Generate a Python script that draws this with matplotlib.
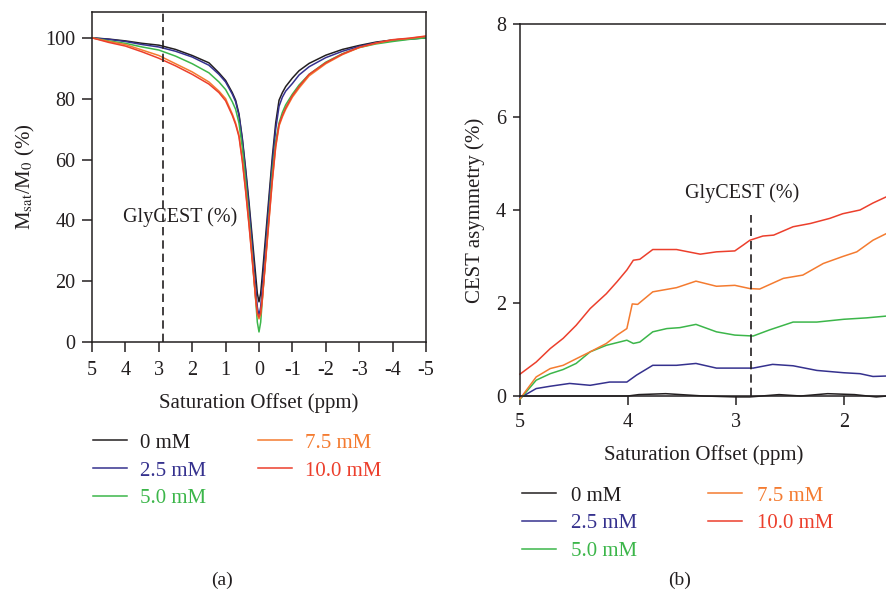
import numpy as np
import matplotlib
matplotlib.use("Agg")
import matplotlib.pyplot as plt

plt.rcParams["font.family"] = ["Liberation Serif", "DejaVu Serif"]
plt.rcParams["mathtext.fontset"] = "stix"

labels = ["0 mM", "2.5 mM", "5.0 mM", "7.5 mM", "10.0 mM"]
colors = ["#231f20", "#35318e", "#3cb64a", "#f47b30", "#ec3f2c"]

# ---- (a) Z-spectra ----
z_ppm = [5, 4.5, 4, 3.5, 3, 2.5, 2, 1.5, 1.2, 1, 0.8, 0.7, 0.6, 0.5, 0.4, 0.3, 0.2, 0.1, 0.05, 0,
         -0.05, -0.1, -0.2, -0.3, -0.4, -0.5, -0.6, -0.7, -0.8, -1, -1.2, -1.5, -2, -2.5, -3, -3.5, -4, -4.5, -5]
z_0mM = [100, 99.6, 99.0, 98.2, 97.6, 96.2, 94.2, 91.8, 88.5, 86.0, 82.0, 79.5, 75.0, 67.0, 57.0, 46.0, 34.0, 22.0, 16.0, 13.2,
         16.0, 22.0, 35.0, 48.0, 61.0, 72.0, 79.5, 82.0, 84.0, 86.8, 89.2, 91.6, 94.3, 96.2, 97.5, 98.6, 99.3, 99.7, 100]
z_25mM = [100, 99.5, 98.8, 97.8, 97.0, 95.6, 93.7, 91.0, 88.0, 85.5, 81.5, 79.0, 74.5, 66.5, 56.0, 44.5, 31.5, 18.0, 11.5, 8.6,
          11.5, 18.0, 32.0, 46.0, 59.0, 70.0, 77.5, 80.5, 82.5, 85.0, 87.8, 90.5, 93.5, 95.6, 97.2, 98.4, 99.2, 99.6, 100]
z_50mM = [100, 99.0, 98.2, 97.0, 96.0, 94.0, 91.5, 88.5, 85.5, 83.0, 79.0, 76.5, 72.0, 64.0, 53.0, 41.0, 28.0, 14.0, 6.5, 3.3,
          6.5, 14.0, 28.0, 42.0, 56.0, 66.0, 72.0, 75.5, 78.0, 81.5, 84.5, 88.0, 92.0, 94.8, 96.8, 98.0, 98.8, 99.5, 100]
z_75mM = [100, 98.8, 97.8, 96.0, 94.2, 91.5, 88.8, 85.5, 82.5, 80.0, 75.0, 72.0, 68.0, 60.0, 50.0, 39.0, 27.0, 14.0, 9.0, 7.6,
          9.0, 14.0, 27.0, 40.0, 53.0, 64.0, 71.0, 74.0, 76.5, 80.5, 83.5, 87.5, 91.5, 94.5, 96.8, 98.2, 99.3, 99.8, 100.5]
z_10mM = [100, 98.5, 97.3, 95.4, 93.3, 90.8, 88.0, 84.8, 82.0, 79.3, 74.5, 71.5, 67.5, 59.5, 49.5, 38.5, 26.5, 14.5, 9.6, 8.2,
          9.6, 14.5, 27.5, 40.5, 53.5, 64.5, 71.5, 74.5, 77.0, 81.0, 84.0, 88.0, 91.8, 94.7, 96.9, 98.3, 99.4, 99.9, 100.6]
z_series = [z_0mM, z_25mM, z_50mM, z_75mM, z_10mM]

# ---- (b) CEST asymmetry ----
a_ppm_0 = [5, 4.5, 4.0, 3.9, 3.65, 3.3, 3.0, 2.87, 2.6, 2.4, 2.15, 1.9, 1.7, 1.6]
a_0mM = [0.0, 0.0, 0.0, 0.03, 0.05, 0.0, -0.02, -0.02, 0.03, 0.0, 0.05, 0.03, -0.02, 0.0]
a_ppm_25 = [5, 4.85, 4.72, 4.54, 4.35, 4.17, 4.01, 3.92, 3.77, 3.55, 3.37, 3.18, 2.96, 2.84, 2.66, 2.47,
            2.25, 2.0, 1.85, 1.73, 1.6]
a_25mM = [-0.04, 0.16, 0.21, 0.27, 0.23, 0.3, 0.3, 0.45, 0.66, 0.66, 0.7, 0.6, 0.6, 0.6, 0.68, 0.65,
          0.55, 0.5, 0.48, 0.42, 0.43]
a_ppm_50 = [5, 4.85, 4.72, 4.6, 4.48, 4.35, 4.2, 4.01, 3.95, 3.89, 3.77, 3.64, 3.52, 3.37, 3.18, 3.01,
            2.84, 2.69, 2.47, 2.25, 2.0, 1.79, 1.6]
a_50mM = [-0.07, 0.34, 0.48, 0.57, 0.7, 0.95, 1.09, 1.2, 1.13, 1.16, 1.38, 1.45, 1.47, 1.54, 1.38, 1.31,
          1.29, 1.42, 1.59, 1.59, 1.65, 1.68, 1.72]
a_ppm_75 = [5, 4.85, 4.72, 4.6, 4.48, 4.35, 4.2, 4.1, 4.01, 3.96, 3.91, 3.77, 3.55, 3.37, 3.18, 3.01,
            2.87, 2.78, 2.56, 2.38, 2.19, 2.01, 1.88, 1.73, 1.6]
a_75mM = [-0.06, 0.41, 0.59, 0.66, 0.8, 0.95, 1.13, 1.31, 1.45, 1.98, 1.97, 2.24, 2.33, 2.47, 2.36, 2.38,
          2.31, 2.3, 2.53, 2.6, 2.85, 3.0, 3.1, 3.35, 3.5]
a_ppm_10 = [5, 4.85, 4.72, 4.6, 4.48, 4.35, 4.2, 4.1, 4.01, 3.95, 3.89, 3.77, 3.55, 3.33, 3.18, 3.01,
            2.93, 2.87, 2.75, 2.65, 2.47, 2.31, 2.13, 2.01, 1.85, 1.73, 1.6]
a_10mM = [0.47, 0.73, 1.02, 1.24, 1.52, 1.88, 2.2, 2.46, 2.71, 2.92, 2.94, 3.15, 3.15, 3.05, 3.1, 3.12,
          3.25, 3.35, 3.44, 3.46, 3.64, 3.71, 3.82, 3.92, 4.0, 4.15, 4.29]
a_x = [a_ppm_0, a_ppm_25, a_ppm_50, a_ppm_75, a_ppm_10]
a_series = [a_0mM, a_25mM, a_50mM, a_75mM, a_10mM]

glycest_ppm = 2.86

fig = plt.figure(figsize=(8.87, 5.98), dpi=100)

# -----------------------------
# (a)
# -----------------------------
ax1 = fig.add_axes([92 / 887, 1 - 342 / 598, 334 / 887, 330 / 598])
for y, c, lab in zip(z_series, colors, labels):
    ax1.plot(z_ppm, y, color=c, lw=1.1, label=lab)
ax1.axvline(glycest_ppm, color="#231f20", lw=1.2, ls=(0, (5, 3)))
ax1.text(2.37, 41, "GlyCEST (%)", fontsize=14.5, ha="center", va="center", color="#231f20")
ax1.set_xlim(5, -5)
ax1.set_ylim(0, 108.5)
ax1.set_xticks(np.arange(5, -6, -1))
ax1.set_yticks([0, 20, 40, 60, 80, 100])
ax1.set_xticklabels([str(v) for v in range(5, -6, -1)])
ax1.set_xlabel("Saturation Offset (ppm)", fontsize=15, color="#231f20", labelpad=9)
ax1.set_ylabel(r"M$_{\rm sat}$/M$_{\rm 0}$ (%)", fontsize=15, color="#231f20", labelpad=6)
ax1.tick_params(axis="x", direction="out", length=7, width=1.1, labelsize=14.5, colors="#231f20", pad=7)
ax1.tick_params(axis="y", direction="out", length=7, width=1.1, labelsize=14.5, colors="#231f20", pad=5)
for s in ax1.spines.values():
    s.set_linewidth(1.1)
    s.set_color("#231f20")
ax1.legend(loc="upper left", bbox_to_anchor=(93 / 887, 1 - 433 / 598), bbox_transform=fig.transFigure,
           ncol=2, frameon=False, fontsize=15, labelcolor="linecolor", handlelength=1.65,
           handletextpad=0.6, columnspacing=2.5, labelspacing=0.4, borderpad=0, borderaxespad=0)

# -----------------------------
# (b)
# -----------------------------
ax2 = fig.add_axes([520 / 887, 1 - 396 / 598, 367 / 887, 372 / 598])
for x, y, c, lab in zip(a_x, a_series, colors, labels):
    ax2.plot(x, y, color=c, lw=1.1, label=lab, clip_on=False)
ax2.plot([glycest_ppm, glycest_ppm], [0, 3.9], color="#231f20", lw=1.2, ls=(0, (5, 3)))
ax2.text(2.94, 4.36, "GlyCEST (%)", fontsize=14.5, ha="center", va="center", color="#231f20")
ax2.set_xlim(5, 1.6)
ax2.set_ylim(0, 8)
ax2.set_xticks([5, 4, 3, 2])
ax2.set_yticks([0, 2, 4, 6, 8])
ax2.spines["right"].set_visible(False)
ax2.set_xlabel("Saturation Offset (ppm)", fontsize=15, color="#231f20", labelpad=9)
ax2.set_ylabel("CEST asymmetry (%)", fontsize=15, color="#231f20", labelpad=8)
ax2.tick_params(axis="x", direction="out", length=6.5, width=1.1, labelsize=14.5, colors="#231f20", pad=6)
ax2.tick_params(axis="y", direction="out", length=5, width=1.1, labelsize=14.5, colors="#231f20", pad=5)
for s in ax2.spines.values():
    s.set_linewidth(1.1)
    s.set_color("#231f20")
ax2.legend(loc="upper left", bbox_to_anchor=(522 / 887, 1 - 486 / 598), bbox_transform=fig.transFigure,
           ncol=2, frameon=False, fontsize=15, labelcolor="linecolor", handlelength=1.65,
           handletextpad=0.7, columnspacing=3.4, labelspacing=0.4, borderpad=0, borderaxespad=0)

fig.text(222 / 887, 1 - 580 / 598, "(a)", fontsize=14, ha="center", va="center", color="#231f20")
fig.text(680 / 887, 1 - 580 / 598, "(b)", fontsize=14, ha="center", va="center", color="#231f20")

plt.savefig("out.png", dpi=100)
